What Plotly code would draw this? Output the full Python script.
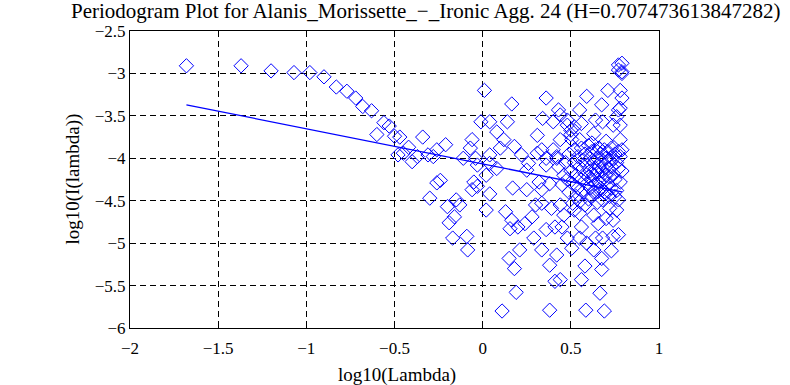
import plotly.graph_objects as go

title_text = "Periodogram Plot for Alanis_Morissette_−_Ironic Agg. 24 (H=0.707473613847282)"
x_label = "log10(Lambda)"
y_label = "log10(I(lambda))"

# log10(lambda) values
log_lambda = [
    -1.68, -1.37, -1.20, -1.07, -0.98, -0.90, -0.83, -0.77, -0.72, -0.68, -0.63, -0.60, -0.56, -0.53, -0.50, -0.48,
    -0.47, -0.45, -0.42, -0.40, -0.37, -0.34, -0.31, -0.30, -0.28, -0.26, -0.26, -0.24, -0.21, -0.20, -0.19, -0.17,
    -0.16, -0.15, -0.13, -0.11, -0.09, -0.085, -0.07, -0.06, -0.06, -0.05, -0.04, -0.03, -0.03,
    0.01, -0.01, 0.02, 0.02, 0.04, 0.04, 0.04, 0.04, 0.08, 0.08, 0.10, 0.11, 0.12, 0.13, 0.14, 0.15, 0.155, 0.165,
    0.165, 0.17, 0.18, 0.18, 0.19, 0.20, 0.21, 0.22, 0.24, 0.25, 0.25, 0.26, 0.28, 0.29, 0.30, 0.31, 0.31, 0.32,
    0.335, 0.335, 0.335, 0.335, 0.34, 0.36, 0.36, 0.36, 0.36, 0.38, 0.38, 0.38, 0.39, 0.40, 0.40, 0.41, 0.41, 0.42,
    0.42, 0.42, 0.43, 0.43, 0.44, 0.44, 0.44, 0.44, 0.45, 0.45, 0.46, 0.46,
    0.48, 0.48, 0.48, 0.50, 0.50, 0.505, 0.505, 0.51, 0.52, 0.52, 0.55, 0.55, 0.55, 0.55, 0.55, 0.56, 0.56, 0.56,
    0.58, 0.585, 0.59, 0.59, 0.62, 0.62, 0.63, 0.63, 0.63, 0.64, 0.64, 0.655, 0.655, 0.665, 0.675, 0.675, 0.675,
    0.68, 0.68, 0.68, 0.69, 0.70, 0.70, 0.70, 0.71, 0.72, 0.73, 0.74, 0.74, 0.74, 0.75, 0.76, 0.76, 0.77, 0.77,
    0.77, 0.77, 0.77, 0.77, 0.78, 0.78, 0.78, 0.78, 0.79, 0.79, 0.79, 0.79,
    0.47, 0.48, 0.49, 0.49, 0.50, 0.51, 0.52, 0.52, 0.53, 0.53, 0.54, 0.54, 0.55, 0.56, 0.56, 0.57, 0.57, 0.58,
    0.58, 0.58, 0.59, 0.59, 0.60, 0.60, 0.60, 0.61, 0.61, 0.61, 0.62, 0.62, 0.63, 0.63, 0.63, 0.64, 0.64, 0.64,
    0.65, 0.65, 0.65, 0.66, 0.66, 0.66, 0.67, 0.67, 0.67, 0.68, 0.68, 0.69, 0.69, 0.69, 0.70, 0.70, 0.71, 0.71,
    0.71, 0.72, 0.72, 0.72, 0.73, 0.73, 0.73, 0.74, 0.74, 0.75, 0.75, 0.76, 0.76, 0.77, 0.78, 0.78, 0.79, 0.79,
]

# log10(I(lambda)) values
log_periodogram = [
    -2.91, -2.91, -2.97, -2.99, -2.99, -3.04, -3.16, -3.21, -3.29, -3.39, -3.44, -3.72, -3.58, -3.62, -3.74, -3.96,
    -3.75, -3.94, -3.87, -4.04, -3.98, -3.75, -3.96, -4.47, -3.98, -3.90, -4.29, -4.26, -3.84, -4.57, -4.76, -4.94,
    -4.69, -4.49, -4.55, -4.00, -4.92, -5.08, -3.88, -3.78, -4.37, -4.28, -4.00, -4.33, -4.08,
    -3.20, -3.57, -4.20, -4.61, -3.57, -3.96, -4.06, -4.42, -3.69, -4.12, -3.88, -5.80, -3.78, -4.63, -3.57, -5.18,
    -4.83, -3.36, -4.73, -4.35, -3.86, -5.30, -5.58, -4.81, -5.08, -3.96, -4.77, -4.14, -4.37, -4.06, -4.69, -4.94,
    -4.55, -3.73, -3.94, -4.28, -3.90, -4.37, -4.53, -5.08, -3.53, -3.29, -4.00, -4.08, -4.84, -4.30, -5.26, -5.79,
    -4.59, -3.57, -3.90, -4.81, -5.45, -3.98, -4.00, -5.14, -3.43, -4.10, -3.49, -3.78, -4.55, -5.43, -4.31, -4.81,
    -4.20, -4.67,
    -3.61, -3.55, -4.94, -3.67, -3.72, -3.78, -5.06, -4.53, -3.63, -4.61, -3.43, -3.78, -4.51, -4.65, -4.94, -3.59,
    -4.81, -5.43, -5.27, -5.79, -3.27, -5.00, -3.82, -4.45, -3.71, -4.67, -5.08, -3.55, -4.94, -4.39, -4.77, -5.59,
    -3.37, -5.18, -5.31, -3.57, -4.49, -4.94, -5.80, -3.80, -4.41, -4.71, -3.20, -4.59, -5.09, -3.61, -4.73, -4.92,
    -4.45, -3.51, -4.61, -2.90, -2.96, -3.43, -3.92, -4.49, -4.90, -3.20, -3.41, -3.61, -3.78, -2.88, -2.98, -3.00,
    -3.29,
    -4.05, -4.25, -3.95, -4.40, -4.15, -4.30, -3.90, -4.05, -4.20, -4.45, -3.98, -4.35, -4.10, -3.88, -4.25, -4.02,
    -4.40, -3.95, -4.18, -4.55, -4.08, -4.30, -3.85, -4.22, -4.48, -4.00, -4.15, -4.35, -3.92, -4.25, -4.05, -4.20,
    -4.40, -3.90, -4.12, -4.30, -4.00, -4.18, -4.52, -3.88, -4.10, -4.28, -3.95, -4.05, -4.35, -4.15, -4.25, -3.90,
    -4.08, -4.40, -4.00, -4.20, -3.92, -4.12, -4.30, -4.02, -4.22, -4.45, -3.88, -4.10, -4.35, -4.00, -4.18, -3.95,
    -4.25, -4.05, -4.38, -4.12, -3.98, -4.28, -4.15, -3.90,
]

# least-squares fit (slope = 1 - 2H)
fit_intercept = -4.067
fit_slope = -0.415

x_ticks = [-2, -1.5, -1, -0.5, 0, 0.5, 1]
y_ticks = [-6, -5.5, -5, -4.5, -4, -3.5, -3, -2.5]


def fmt(v):
    return ("−" + f"{abs(v):g}") if v < 0 else f"{v:g}"


fit_x = [min(log_lambda), max(log_lambda)]
fit_y = [fit_intercept + fit_slope * v for v in fit_x]

font_family = "Liberation Serif, Times New Roman, serif"

fig = go.Figure()
fig.add_trace(go.Scatter(
    x=log_lambda, y=log_periodogram, mode="markers",
    marker=dict(symbol="diamond-open", size=11, color="#0000ff", line=dict(width=1, color="#0000ff")),
    showlegend=False, hoverinfo="x+y",
))
fig.add_trace(go.Scatter(
    x=fit_x, y=fit_y, mode="lines",
    line=dict(color="#0000ff", width=1.3), showlegend=False,
))

axis_common = dict(
    showline=True, linecolor="black", linewidth=1, mirror="ticks",
    ticks="inside", ticklen=5, tickcolor="black", tickwidth=1,
    showgrid=True, gridcolor="black", gridwidth=1, griddash="6px,4px",
    zeroline=False, automargin=False,
    tickfont=dict(family=font_family, size=17, color="black"),
)

fig.update_xaxes(range=[-2, 1], tickvals=x_ticks, ticktext=[fmt(v) for v in x_ticks],
                 ticklabelstandoff=5, **axis_common)
fig.update_yaxes(range=[-6, -2.5], tickvals=y_ticks, ticktext=[fmt(v) for v in y_ticks], **axis_common)

fig.update_layout(
    width=790, height=385,
    margin=dict(l=130, r=131, t=31, b=57),
    paper_bgcolor="white", plot_bgcolor="white",
    title=dict(text=title_text, x=0.539, xanchor="center", y=1 - 10.5 / 385, yanchor="middle",
               font=dict(family=font_family, size=21, color="black")),
    font=dict(family=font_family, color="black"),
    annotations=[
        dict(text=x_label, xref="paper", yref="paper", x=(397 - 130) / 529, y=(328 - 375) / 297,
             xanchor="center", yanchor="middle", showarrow=False,
             font=dict(family=font_family, size=19, color="black")),
        dict(text=y_label, xref="paper", yref="paper", x=(72 - 130) / 529, y=0.5, textangle=-90,
             xanchor="center", yanchor="middle", showarrow=False,
             font=dict(family=font_family, size=19, color="black")),
    ],
)

fig.write_html("out.html", post_script="document.body.style.margin='0px';",
               config={"displayModeBar": False})
